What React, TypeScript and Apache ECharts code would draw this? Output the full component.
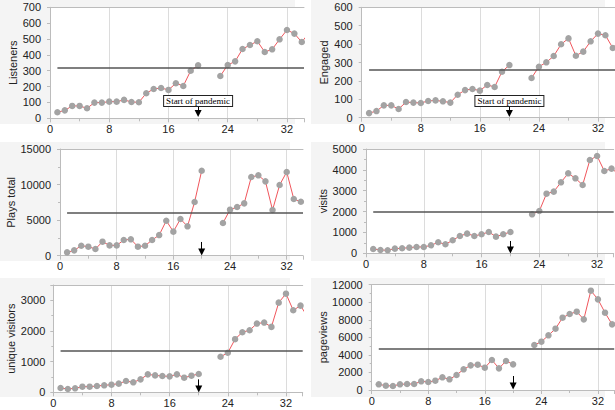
import React, { useEffect, useRef } from "react";
import * as echarts from "echarts";

// ---- data ----
const weeks = [1, 2, 3, 4, 5, 6, 7, 8, 9, 10, 11, 12, 13, 14, 15, 16, 17, 18, 19, 20, 21, 22, 23, 24, 25, 26, 27, 28, 29, 30, 31, 32, 33, 34, 35];
const listeners = [38, 50, 78, 78, 63, 99, 99, 105, 105, 116, 103, 101, 158, 185, 191, 179, 221, 204, 300, 334, null, null, 267, 336, 359, 437, 462, 486, 418, 435, 498, 557, 534, 481, 540];
const engaged = [25, 36, 67, 67, 47, 85, 82, 80, 91, 94, 89, 82, 125, 150, 156, 147, 178, 167, 250, 286, null, null, 216, 277, 301, 335, 399, 431, 337, 359, 415, 457, 448, 379, 420];
const playsTotal = [470, 750, 1400, 1270, 940, 1970, 1450, 1450, 2200, 2300, 1270, 1400, 2200, 2900, 4920, 3380, 5160, 4130, 7550, 11950, null, null, 4590, 6470, 6840, 7360, 11060, 11300, 10450, 6420, 9940, 11770, 7970, 7590, 7700];
const visits = [208, 160, 144, 224, 240, 272, 304, 304, 383, 527, 431, 623, 831, 942, 831, 911, 1022, 799, 911, 1022, null, null, 1869, 2029, 2859, 2955, 3403, 3834, 3594, 3275, 4473, 4665, 3946, 4058, 3800];
const uniqueVisitors = [141, 108, 130, 184, 184, 206, 227, 249, 282, 368, 325, 422, 585, 552, 531, 520, 585, 477, 542, 596, null, null, 1159, 1289, 1733, 1960, 2025, 2242, 2274, 2134, 2924, 3217, 2675, 2827, 2450];
const pageviews = [646, 494, 456, 646, 684, 684, 987, 911, 1063, 1443, 1215, 1709, 2355, 2810, 2886, 2544, 3418, 2468, 3304, 2924, null, null, 5127, 5507, 6229, 6988, 8241, 8659, 8925, 8051, 11318, 10330, 8811, 7482, 7100];

const seriesNames = ["Listeners", "Engaged", "Plays total", "visits", "unique visitors", "pageviews"];
const seriesValues = [listeners, engaged, playsTotal, visits, uniqueVisitors, pageviews];
const referenceLevels = [318, 260, 6000, 2000, 1365, 4650];
const yMaxes = [700, 600, 15000, 5000, 3500, 12000];
const yIntervals = [100, 100, 5000, 1000, 1000, 2000];
const xTickInterval = 8;
const xMax = 34.3;
const pandemicWeek = 20;
const pandemicLabel = "Start of pandemic";
const arrowStart = [78, 64, 1930, 590, 422, 1595];
const arrowEnd = [30, 23, 520, 158, 107, 456];
const showPandemicLabel = [true, true, false, false, false, false];

// ---- layout ----
const layouts = [
  { left: 50, top: 7.3, width: 254, height: 111, nameGap: 32, margin: 9, bg: [0, 0, 295, 124] },
  { left: 361.7, top: 7.3, width: 253.5, height: 110.4, nameGap: 32, margin: 9, bg: [311, 0, 294, 124] },
  { left: 60, top: 149, width: 243, height: 106.7, nameGap: 41, margin: 9, bg: [0, 142, 290, 119] },
  { left: 366, top: 149, width: 247.7, height: 104.3, nameGap: 35, margin: 9, bg: [311, 142, 294, 119] },
  { left: 53.3, top: 285, width: 249.4, height: 107.3, nameGap: 34, margin: 8, bg: [0, 278, 290, 119] },
  { left: 371.7, top: 284.7, width: 242.5, height: 105.3, nameGap: 40, margin: 9, bg: [311, 278, 294, 119] },
];

const FONT = "'Liberation Sans', Arial, Helvetica, sans-serif";
const AXIS_COLOR = "#bcbcbc";
const TEXT_COLOR = "#222";

function buildOption() {
  const grid: any[] = [];
  const xAxis: any[] = [];
  const yAxis: any[] = [];
  const series: any[] = [];
  const graphic: any[] = [];

  layouts.forEach((L, i) => {
    graphic.push({
      type: "rect",
      z: -10,
      silent: true,
      shape: { x: L.bg[0], y: L.bg[1], width: L.bg[2], height: L.bg[3] },
      style: { fill: "#f4f4f4" },
    });
    grid.push({
      left: L.left,
      top: L.top,
      width: L.width,
      height: L.height,
      show: true,
      backgroundColor: "#ffffff",
      borderWidth: 0,
    });
    xAxis.push({
      type: "value",
      gridIndex: i,
      min: 0,
      max: xMax,
      interval: xTickInterval,
      axisLine: { show: true, onZero: false, lineStyle: { color: AXIS_COLOR } },
      axisTick: { show: true, length: 4, lineStyle: { color: AXIS_COLOR } },
      minorTick: { show: true, splitNumber: 2, length: 3, lineStyle: { color: AXIS_COLOR } },
      axisLabel: {
        showMaxLabel: false,
        margin: 5,
        fontSize: 11,
        color: TEXT_COLOR,
        fontFamily: FONT,
        formatter: (v: number) => String(v),
      },
      splitLine: { show: true, showMinLine: false, showMaxLine: false, lineStyle: { color: "#dcdcdc" } },
    });
    xAxis.push({
      type: "value",
      gridIndex: i,
      position: "top",
      min: 0,
      max: xMax,
      axisLine: { show: true, onZero: false, lineStyle: { color: AXIS_COLOR } },
      axisTick: { show: false },
      axisLabel: { show: false },
      splitLine: { show: false },
    });
    yAxis.push({
      type: "value",
      gridIndex: i,
      min: 0,
      max: yMaxes[i],
      interval: yIntervals[i],
      name: seriesNames[i],
      nameLocation: "middle",
      nameGap: L.nameGap,
      nameTextStyle: { fontSize: 11, color: TEXT_COLOR, fontFamily: FONT },
      axisLine: { show: true, lineStyle: { color: AXIS_COLOR } },
      axisTick: { show: true, length: 3, lineStyle: { color: AXIS_COLOR } },
      minorTick: { show: i >= 2, splitNumber: 2, length: 2, lineStyle: { color: AXIS_COLOR } },
      axisLabel: {
        margin: L.margin,
        fontSize: 11,
        color: TEXT_COLOR,
        fontFamily: FONT,
        showMaxLabel: i !== 4,
        formatter: (v: number) => String(v),
      },
      splitLine: { show: false },
    });

    const vals = seriesValues[i];
    const arrowLabel = showPandemicLabel[i]
      ? {
          show: true,
          position: "start",
          formatter: pandemicLabel,
          fontFamily: "'Liberation Serif', 'Times New Roman', serif",
          fontSize: 9,
          color: "#000",
          backgroundColor: "#fff",
          borderColor: "#222",
          borderWidth: 1,
          padding: [1, 2, 0, 2],
          distance: 0,
        }
      : { show: false };

    series.push({
      type: "line",
      name: seriesNames[i],
      xAxisIndex: 2 * i,
      yAxisIndex: i,
      data: weeks.map((w, k) => [w, vals[k] == null ? "-" : vals[k]]),
      symbol: "circle",
      symbolSize: 6.5,
      connectNulls: false,
      itemStyle: { color: "#a3a3a3" },
      lineStyle: { color: "#f0565c", width: 1 },
      markLine: {
        silent: true,
        animation: false,
        symbol: ["none", "none"],
        label: { show: false },
        emphasis: { disabled: true },
        data: [
          [
            { coord: [1, referenceLevels[i]], lineStyle: { color: "#555", width: 1.6, type: "solid" } },
            { coord: [xMax, referenceLevels[i]] },
          ],
          [
            {
              coord: [pandemicWeek, arrowStart[i]],
              lineStyle: { color: "#000", width: 1, type: "solid" },
              label: arrowLabel,
            },
            { coord: [pandemicWeek, arrowEnd[i]], symbol: "triangle", symbolSize: 7 },
          ],
        ],
      },
    });
  });

  return {
    animation: false,
    backgroundColor: "#ffffff",
    grid,
    xAxis,
    yAxis,
    series,
    graphic,
  };
}

export default function App() {
  const ref = useRef<HTMLDivElement>(null);
  useEffect(() => {
    if (!ref.current) return;
    const chart = echarts.init(ref.current, undefined, { renderer: "svg" });
    chart.setOption(buildOption());
    return () => chart.dispose();
  }, []);
  return (
    <div
      ref={ref}
      style={{ position: "absolute", left: 0, top: 0, width: 615, height: 410 }}
    />
  );
}
